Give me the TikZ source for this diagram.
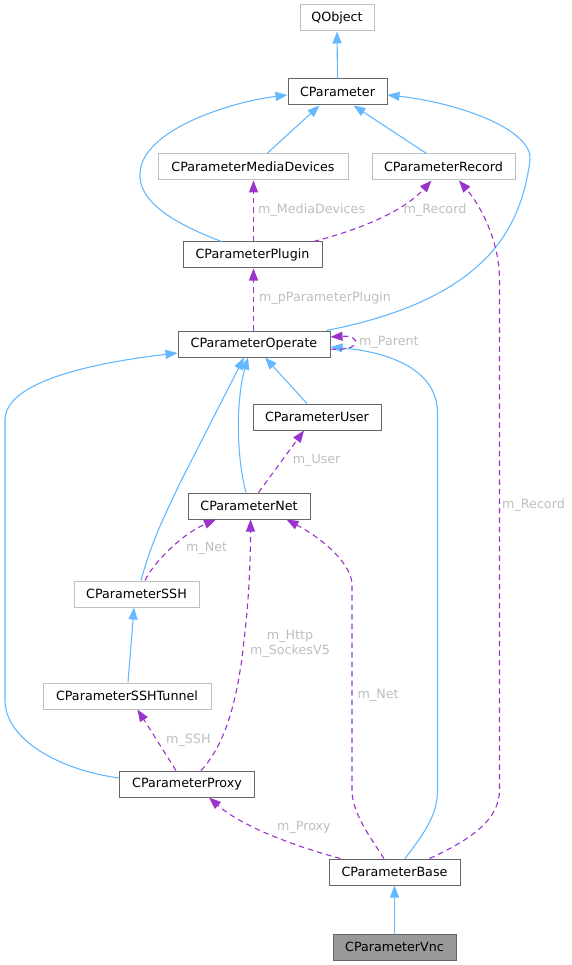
\documentclass[tikz,border=0pt]{standalone}
\usepackage{fontspec}
\setmainfont{DejaVu Sans}
\usetikzlibrary{arrows.meta}
\definecolor{inhc}{HTML}{63B8FF}
\definecolor{colc}{HTML}{9A32CD}
\definecolor{darkb}{HTML}{666666}
\definecolor{lightb}{HTML}{BFBFBF}
\definecolor{lblc}{HTML}{BEBEBE}
\definecolor{vncfill}{HTML}{999999}
\begin{document}
\begin{tikzpicture}[x=1pt,y=-1pt,
  cls/.style={draw=darkb, line width=1pt, minimum height=26pt, inner sep=0pt, font=\fontsize{12.7}{15}\selectfont, text=black},
  ext/.style={cls, draw=lightb},
  inh/.style={draw=inhc, line width=1.1pt, -{Triangle[length=12pt,width=9pt]}},
  col/.style={draw=colc, line width=1.1pt, dash pattern=on 5.5pt off 4pt, -{Triangle[length=12pt,width=9pt]}},
  lbl/.style={text=lblc, font=\fontsize{12.7}{14.3}\selectfont, inner sep=0pt}
]
\useasboundingbox (0,0) rectangle (572,965);
% nodes
\node[ext, minimum width=74pt]  (qobj)   at (337,18)    {QObject};
\node[cls, minimum width=99pt]  (param)  at (337.5,92)  {CParameter};
\node[ext, minimum width=190pt] (media)  at (253,167)   {CParameterMediaDevices};
\node[ext, minimum width=143pt] (record) at (443.5,167) {CParameterRecord};
\node[cls, minimum width=139pt] (plugin) at (252.5,255) {CParameterPlugin};
\node[cls, minimum width=152pt] (operate) at (254,344)  {CParameterOperate};
\node[cls, minimum width=128pt] (user)   at (317,417)   {CParameterUser};
\node[cls, minimum width=122pt] (net)    at (249,506)   {CParameterNet};
\node[ext, minimum width=125pt] (ssh)    at (136.5,594) {CParameterSSH};
\node[ext, minimum width=168pt] (tunnel) at (127,696)   {CParameterSSHTunnel};
\node[cls, minimum width=135pt] (proxy)  at (187,784)   {CParameterProxy};
\node[cls, minimum width=131pt] (base)   at (394.5,872) {CParameterBase};
\node[cls, fill=vncfill, minimum width=123pt] (vnc) at (394.5,947) {CParameterVnc};

% inheritance
\draw[inh] (param.north) -- (qobj.south);
\draw[inh] ([xshift=14pt]media.north) -- ([xshift=-18pt]param.south);
\draw[inh] ([xshift=-17pt]record.north) -- ([xshift=16pt]param.south);
\draw[inh] ([xshift=-31pt]plugin.north) .. controls (170,222) and (138,200) .. (140,173)
   .. controls (142,130) and (230,102) .. ([yshift=-3pt]param.west);
\draw[inh] ([xshift=-4pt]operate.north east) .. controls (390,318) and (440,298) .. (473,270)
   .. controls (510,240) and (525,200) .. (530,160)
   .. controls (533,130) and (460,103) .. ([yshift=-3pt]param.east);
\draw[inh] ([xshift=-10pt]user.north) -- ([xshift=11pt]operate.south);
\draw[inh] ([xshift=-3pt]net.north) .. controls (236,455) and (236,400) .. ([xshift=-6pt]operate.south);
\draw[inh] ([xshift=4.5pt]ssh.north) .. controls (152,540) and (165,515) .. (180,483)
   -- ([xshift=-10pt]operate.south);
\draw[inh] ([yshift=6pt]proxy.west) .. controls (60,770) and (5,740) .. (5,700) -- (5,420)
   .. controls (5,380) and (100,362) .. ([yshift=-9pt]operate.west);
\draw[inh] ([xshift=10.5pt]base.north) .. controls (425,832) and (437.5,815) .. (437.5,790) -- (437.5,413)
   .. controls (437.5,370) and (390,352) .. ([yshift=-3pt]operate.east);
\draw[inh] ([xshift=1pt]tunnel.north) -- ([xshift=-2.5pt]ssh.south);
\draw[inh] (vnc.north) -- (base.south);

% collaboration
\draw[col] ([xshift=1pt]plugin.north) -- ([xshift=0.5pt]media.south);
\node[lbl, anchor=west] (lmedia) at (258,210) {m\_MediaDevices};
\draw[col] ([xshift=-9pt]plugin.north east) .. controls (350,232) and (400,215) .. ([xshift=-12pt]record.south);
\node[lbl] (lrec1) at (435,210) {m\_Record};
\draw[col] ([xshift=-0.5pt]operate.north) -- ([xshift=1pt]plugin.south);
\node[lbl, anchor=west] (lplug) at (259,298) {m\_pParameterPlugin};
\draw[col] ([yshift=-5pt]operate.east) .. controls (362,352) and (362,335) .. ([yshift=7pt]operate.east);
\node[lbl, anchor=west] (lpar) at (359,342) {m\_Parent};
\draw[col] ([xshift=9.5pt]net.north) -- ([xshift=-13pt]user.south);
\node[lbl, anchor=west] (luser) at (292.6,460.7) {m\_User};
\draw[col] ([xshift=8.5pt]ssh.north) .. controls (152,565) and (180,535) .. ([xshift=-33pt]net.south);
\node[lbl, anchor=west] (lnet1) at (186,548.7) {m\_Net};
\draw[col] ([xshift=14pt]proxy.north) .. controls (225,745) and (238,700) .. (244,640)
   .. controls (249,600) and (250.5,560) .. ([xshift=1.5pt]net.south);
\node[lbl, align=center] (lhttp) at (290,644) {m\_Http\\m\_SockesV5};
\draw[col] ([xshift=-11pt]proxy.north) -- ([xshift=10.5pt]tunnel.south);
\node[lbl, anchor=west] (lssh) at (166,740) {m\_SSH};
\draw[col] ([xshift=12pt]base.north west) .. controls (290,845) and (240,825) .. ([xshift=22pt]proxy.south);
\node[lbl, anchor=west] (lproxy) at (277,827.7) {m\_Proxy};
\draw[col] ([xshift=-10.5pt]base.north) .. controls (365,830) and (352,810) .. (352,790) -- (352,585)
   .. controls (352,565) and (325,540) .. ([xshift=-24pt]net.south east);
\node[lbl, anchor=west] (lnet2) at (357.5,695.7) {m\_Net};
\draw[col] ([xshift=-31pt]base.north east) .. controls (470,840) and (499.5,820) .. (499.5,790) -- (499.5,280)
   .. controls (499.5,240) and (480,205) .. ([xshift=15.5pt]record.south);
\node[lbl, anchor=west] (lrec2) at (502,505) {m\_Record};
\end{tikzpicture}
\end{document}
